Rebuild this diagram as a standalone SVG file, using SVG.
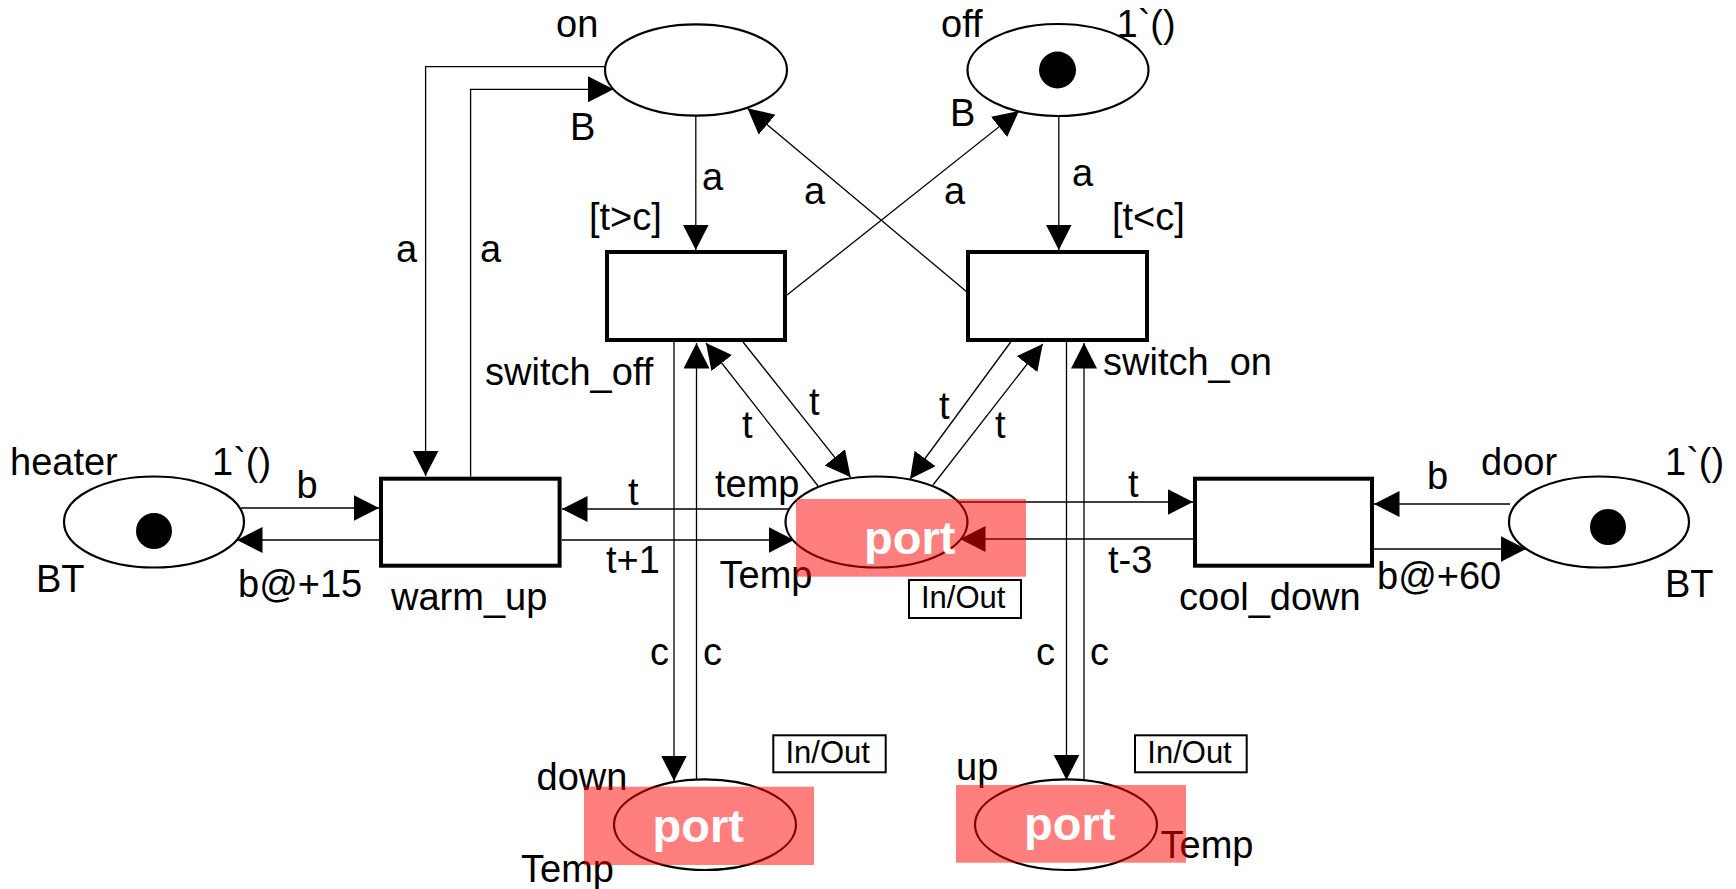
<svg xmlns="http://www.w3.org/2000/svg" width="1736" height="889" viewBox="0 0 1736 889">
<style>
text{font-family:"Liberation Sans",Arial,sans-serif;font-size:38px;fill:#000}
.place{fill:#fff;stroke:#000;stroke-width:2.2}
.trans{fill:#fff;stroke:#000;stroke-width:4}
.token{fill:#000}
.arc{fill:none;stroke:#000;stroke-width:1.3}
.port{fill:#ff0000;fill-opacity:0.5}
.porttxt{font-weight:bold;font-size:47px;fill:#fff}
.tag{fill:#fff;stroke:#000;stroke-width:2}
.tagtxt{font-size:31px}
</style>
<defs>
<marker id="ah" markerUnits="userSpaceOnUse" markerWidth="27" markerHeight="27" refX="25.5" refY="13" orient="auto">
<path d="M0,0 L25.5,13 L0,26 z" fill="#000"/>
</marker>
</defs>
<rect width="1736" height="889" fill="#fff"/>

<g id="connectors">
<path class="arc" d="M605,66.7 H425.6 V476" marker-end="url(#ah)"/>
<text x="396" y="262">a</text>
<path class="arc" d="M470.6,476.7 V89.3 H613.5" marker-end="url(#ah)"/>
<text x="480" y="262">a</text>
<path class="arc" d="M695.8,116 V250" marker-end="url(#ah)"/>
<text x="702" y="190">a</text>
<path class="arc" d="M967,292 L747.5,108.3" marker-end="url(#ah)"/>
<text x="804" y="204">a</text>
<path class="arc" d="M787,295 L1019,111" marker-end="url(#ah)"/>
<text x="944" y="204">a</text>
<path class="arc" d="M1058.8,116 V250" marker-end="url(#ah)"/>
<text x="1072" y="186">a</text>
<path class="arc" d="M241,508 H379" marker-end="url(#ah)"/>
<text x="296.5" y="498">b</text>
<path class="arc" d="M379,540 H237" marker-end="url(#ah)"/>
<text x="238" y="597">b@+15</text>
<path class="arc" d="M789,509 H562" marker-end="url(#ah)"/>
<text x="628" y="505">t</text>
<path class="arc" d="M562,540 H794" marker-end="url(#ah)"/>
<text x="606" y="573">t+1</text>
<path class="arc" d="M958,502 H1193" marker-end="url(#ah)"/>
<text x="1128" y="497">t</text>
<path class="arc" d="M1193,539 H960" marker-end="url(#ah)"/>
<text x="1108" y="573">t-3</text>
<path class="arc" d="M1510,504 H1374" marker-end="url(#ah)"/>
<text x="1427" y="489">b</text>
<path class="arc" d="M1374,549 H1526" marker-end="url(#ah)"/>
<text x="1377" y="589">b@+60</text>
<path class="arc" d="M674,342 V781" marker-end="url(#ah)"/>
<text x="650" y="665">c</text>
<path class="arc" d="M696.5,779 V343" marker-end="url(#ah)"/>
<text x="703" y="665">c</text>
<path class="arc" d="M1066.5,342 V780" marker-end="url(#ah)"/>
<text x="1036" y="665">c</text>
<path class="arc" d="M1084,780 V343" marker-end="url(#ah)"/>
<text x="1090" y="665">c</text>
<path class="arc" d="M818,486 L706,343" marker-end="url(#ah)"/>
<text x="742" y="438">t</text>
<path class="arc" d="M743,342 L850.7,477.3" marker-end="url(#ah)"/>
<text x="809" y="415">t</text>
<path class="arc" d="M1010.7,342 L910,479" marker-end="url(#ah)"/>
<text x="939" y="419">t</text>
<path class="arc" d="M933,485 L1042.7,344" marker-end="url(#ah)"/>
<text x="995" y="438">t</text>
</g>

<g id="on">
<ellipse class="place" cx="696" cy="70" rx="91" ry="45.7"/>
<text x="556" y="37">on</text>
<text x="570" y="140">B</text>
</g>

<g id="off">
<ellipse class="place" cx="1058" cy="70" rx="90.5" ry="46"/>
<circle class="token" cx="1057.5" cy="70" r="18.5"/>
<text x="941" y="37">off</text>
<text x="1116.5" y="37">1`()</text>
<text x="950" y="126">B</text>
</g>

<g id="switch_off">
<rect class="trans" x="607" y="252" width="178" height="88"/>
<text x="589" y="230">[t&gt;c]</text>
<text x="485" y="385">switch_off</text>
</g>

<g id="switch_on">
<rect class="trans" x="968" y="252" width="179" height="88"/>
<text x="1112" y="230">[t&lt;c]</text>
<text x="1103" y="375">switch_on</text>
</g>

<g id="heater">
<ellipse class="place" cx="154" cy="522" rx="90" ry="45.5"/>
<circle class="token" cx="154" cy="531" r="18"/>
<text x="10" y="475">heater</text>
<text x="212" y="475">1`()</text>
<text x="36" y="592">BT</text>
</g>

<g id="warm_up">
<rect class="trans" x="381" y="478.7" width="178.6" height="87"/>
<text x="391" y="610">warm_up</text>
</g>

<g id="cool_down">
<rect class="trans" x="1195" y="478.7" width="177" height="87"/>
<text x="1179" y="610">cool_down</text>
</g>

<g id="door">
<ellipse class="place" cx="1599" cy="522" rx="90" ry="45.5"/>
<circle class="token" cx="1608" cy="527" r="18"/>
<text x="1481" y="475">door</text>
<text x="1665" y="475">1`()</text>
<text x="1665" y="597">BT</text>
</g>

<g id="temp">
<ellipse class="place" cx="876.5" cy="522" rx="91" ry="45.5"/>
<text x="715" y="497">temp</text>
<text x="719.5" y="588">Temp</text>
<rect class="port" x="796" y="499" width="230" height="77.7"/>
<text class="porttxt" x="864" y="554">port</text>
<rect class="tag" x="909" y="580" width="112" height="38"/>
<text class="tagtxt" x="921" y="608">In/Out</text>
</g>

<g id="down">
<ellipse class="place" cx="705" cy="824.7" rx="91" ry="45.3"/>
<text x="536.5" y="790">down</text>
<text x="521" y="882">Temp</text>
<rect class="port" x="584" y="786.7" width="230" height="78.3"/>
<text class="porttxt" x="652.5" y="841.7">port</text>
<rect class="tag" x="773.3" y="735.3" width="112.4" height="37"/>
<text class="tagtxt" x="785.5" y="762.7">In/Out</text>
</g>

<g id="up">
<ellipse class="place" cx="1066" cy="824.7" rx="91" ry="45.3"/>
<text x="956" y="780">up</text>
<text x="1160.5" y="858">Temp</text>
<rect class="port" x="956" y="785" width="230" height="77.7"/>
<text class="porttxt" x="1024" y="840">port</text>
<rect class="tag" x="1135" y="735.3" width="111.7" height="37"/>
<text class="tagtxt" x="1147.3" y="762.7">In/Out</text>
</g>
</svg>
